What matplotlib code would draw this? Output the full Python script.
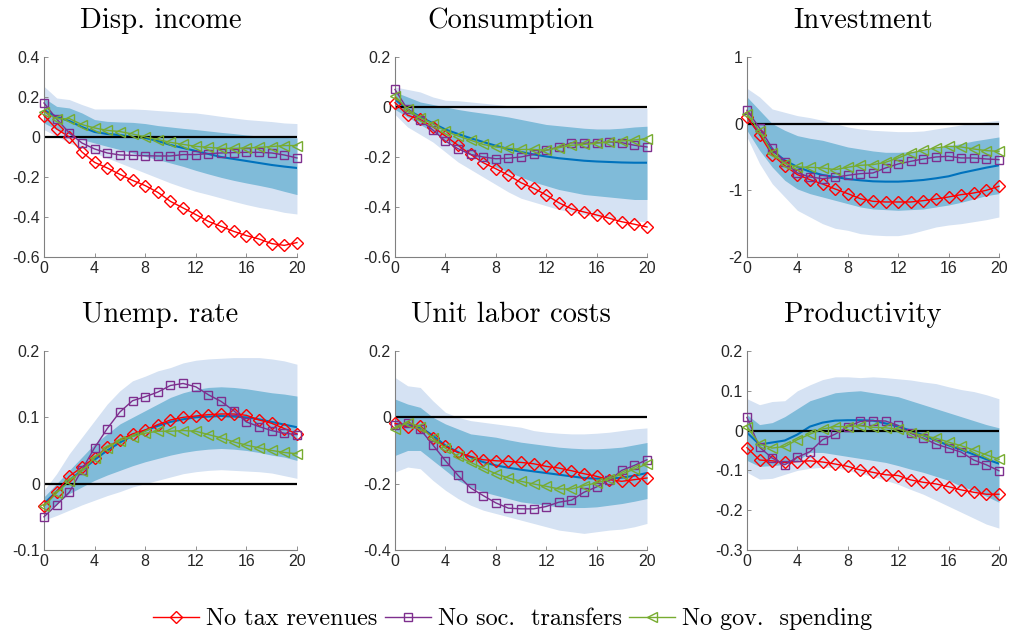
import numpy as np
import matplotlib
matplotlib.use("Agg")
import matplotlib.pyplot as plt

plt.rcParams["font.family"] = ["Liberation Sans", "DejaVu Sans"]
plt.rcParams["axes.unicode_minus"] = False

horizon = np.arange(21)

titles = ["Disp. income", "Consumption", "Investment",
          "Unemp. rate", "Unit labor costs", "Productivity"]
series_names = ["No tax revenues", "No soc.  transfers", "No gov.  spending"]

# --- Disp. income
disp_tax = [0.107, 0.04, 0.0, -0.075, -0.127, -0.155, -0.187, -0.217, -0.243, -0.277, -0.322,
            -0.355, -0.388, -0.422, -0.447, -0.472, -0.493, -0.51, -0.533, -0.542, -0.528]
disp_transf = [0.17, 0.09, 0.02, -0.03, -0.06, -0.08, -0.09, -0.092, -0.094, -0.095, -0.095,
               -0.088, -0.088, -0.083, -0.08, -0.078, -0.077, -0.077, -0.08, -0.09, -0.105]
disp_spend = [0.127, 0.09, 0.092, 0.062, 0.045, 0.033, 0.027, 0.015, 0.0, -0.013, -0.027,
              -0.037, -0.047, -0.052, -0.057, -0.057, -0.055, -0.052, -0.048, -0.043, -0.043]
disp_med = [0.135, 0.1, 0.08, 0.05, 0.025, 0.015, 0.01, 0.0, -0.005, -0.02, -0.04,
            -0.055, -0.07, -0.085, -0.1, -0.11, -0.12, -0.13, -0.14, -0.148, -0.155]
disp_in_hi = [0.195, 0.153, 0.145, 0.12, 0.087, 0.078, 0.075, 0.073, 0.067, 0.057, 0.05,
              0.043, 0.037, 0.03, 0.023, 0.017, 0.01, 0.005, 0.002, -0.002, -0.005]
disp_in_lo = [0.07, 0.037, 0.012, -0.013, -0.03, -0.047, -0.063, -0.08, -0.097, -0.113, -0.13,
              -0.147, -0.167, -0.185, -0.202, -0.217, -0.23, -0.242, -0.255, -0.272, -0.288]
disp_out_hi = [0.253, 0.195, 0.187, 0.162, 0.14, 0.14, 0.14, 0.14, 0.137, 0.132, 0.128,
               0.123, 0.12, 0.112, 0.103, 0.095, 0.087, 0.082, 0.077, 0.07, 0.067]
disp_out_lo = [0.037, 0.003, -0.03, -0.055, -0.08, -0.105, -0.13, -0.155, -0.18, -0.205, -0.23,
               -0.252, -0.272, -0.288, -0.305, -0.322, -0.338, -0.352, -0.363, -0.377, -0.385]

# --- Consumption
cons_tax = [0.017, -0.033, -0.05, -0.079, -0.116, -0.153, -0.19, -0.223, -0.247, -0.273, -0.303,
            -0.325, -0.352, -0.383, -0.407, -0.42, -0.432, -0.445, -0.459, -0.469, -0.48]
cons_transf = [0.07, -0.01, -0.053, -0.092, -0.136, -0.167, -0.19, -0.2, -0.207, -0.205, -0.2,
               -0.19, -0.173, -0.16, -0.143, -0.145, -0.143, -0.14, -0.143, -0.153, -0.16]
cons_spend = [0.044, -0.01, -0.043, -0.067, -0.096, -0.116, -0.133, -0.15, -0.16, -0.165, -0.17,
              -0.17, -0.173, -0.163, -0.153, -0.15, -0.145, -0.14, -0.136, -0.132, -0.127]
cons_med = [0.03, -0.01, -0.04, -0.065, -0.09, -0.108, -0.125, -0.14, -0.155, -0.168, -0.18,
            -0.19, -0.198, -0.205, -0.21, -0.215, -0.218, -0.22, -0.222, -0.223, -0.223]
cons_in_hi = [0.06, 0.04, 0.02, 0.01, 0.0, -0.01, -0.018, -0.025, -0.032, -0.04, -0.05,
              -0.06, -0.07, -0.075, -0.08, -0.085, -0.088, -0.088, -0.085, -0.08, -0.077]
cons_in_lo = [-0.01, -0.04, -0.07, -0.1, -0.13, -0.16, -0.19, -0.215, -0.24, -0.26, -0.28,
              -0.3, -0.315, -0.33, -0.34, -0.35, -0.355, -0.36, -0.365, -0.37, -0.37]
cons_out_hi = [0.08, 0.07, 0.06, 0.04, 0.027, 0.025, 0.02, 0.015, 0.01, 0.005, 0.0,
               -0.003, -0.005, -0.005, -0.005, -0.005, -0.005, -0.005, -0.005, -0.005, -0.005]
cons_out_lo = [-0.03, -0.08, -0.11, -0.14, -0.18, -0.22, -0.25, -0.28, -0.31, -0.34, -0.365,
               -0.38, -0.395, -0.41, -0.42, -0.43, -0.44, -0.445, -0.45, -0.455, -0.46]

# --- Investment
inv_tax = [0.1, -0.165, -0.465, -0.63, -0.765, -0.84, -0.905, -0.98, -1.05, -1.125, -1.165,
           -1.175, -1.175, -1.175, -1.155, -1.13, -1.1, -1.065, -1.04, -1.0, -0.94]
inv_transf = [0.2, -0.065, -0.365, -0.58, -0.74, -0.8, -0.825, -0.805, -0.775, -0.75, -0.74,
              -0.665, -0.605, -0.565, -0.53, -0.5, -0.49, -0.515, -0.515, -0.53, -0.54]
inv_spend = [0.15, -0.115, -0.44, -0.6, -0.65, -0.655, -0.665, -0.69, -0.655, -0.625, -0.615,
             -0.58, -0.515, -0.44, -0.4, -0.365, -0.34, -0.35, -0.38, -0.405, -0.415]
inv_med = [0.1, -0.15, -0.4, -0.55, -0.65, -0.72, -0.77, -0.8, -0.83, -0.85, -0.865,
           -0.87, -0.87, -0.86, -0.845, -0.82, -0.79, -0.74, -0.7, -0.66, -0.625]
inv_in_hi = [0.4, 0.2, 0.0, -0.1, -0.18, -0.22, -0.25, -0.3, -0.35, -0.38, -0.41,
             -0.43, -0.43, -0.42, -0.4, -0.37, -0.33, -0.3, -0.26, -0.23, -0.2]
inv_in_lo = [-0.1, -0.4, -0.65, -0.85, -0.98, -1.05, -1.1, -1.15, -1.2, -1.25, -1.28,
             -1.29, -1.3, -1.29, -1.28, -1.25, -1.22, -1.18, -1.13, -1.08, -1.05]
inv_out_hi = [0.53, 0.4, 0.22, 0.17, 0.12, 0.09, 0.05, 0.0, -0.05, -0.08, -0.1,
              -0.11, -0.12, -0.12, -0.11, -0.08, -0.05, -0.02, 0.01, 0.03, 0.05]
inv_out_lo = [-0.2, -0.6, -0.9, -1.1, -1.3, -1.4, -1.5, -1.57, -1.6, -1.65, -1.67,
              -1.68, -1.68, -1.65, -1.6, -1.55, -1.52, -1.5, -1.47, -1.44, -1.4]

# --- Unemp. rate
unemp_tax = [-0.033, -0.012, 0.011, 0.025, 0.039, 0.055, 0.066, 0.075, 0.081, 0.089, 0.096,
             0.1, 0.102, 0.104, 0.105, 0.105, 0.103, 0.096, 0.091, 0.083, 0.075]
unemp_transf = [-0.05, -0.032, -0.013, 0.021, 0.054, 0.083, 0.108, 0.125, 0.131, 0.138, 0.148,
                0.151, 0.146, 0.134, 0.124, 0.11, 0.093, 0.086, 0.08, 0.076, 0.074]
unemp_spend = [-0.034, -0.014, 0.004, 0.019, 0.039, 0.054, 0.065, 0.071, 0.076, 0.079, 0.079,
               0.08, 0.079, 0.074, 0.069, 0.063, 0.058, 0.054, 0.05, 0.047, 0.045]
unemp_med = [-0.03, -0.012, 0.005, 0.02, 0.036, 0.05, 0.062, 0.072, 0.08, 0.087, 0.093,
             0.097, 0.1, 0.101, 0.102, 0.101, 0.1, 0.097, 0.093, 0.089, 0.085]
unemp_in_hi = [-0.02, 0.0, 0.02, 0.04, 0.06, 0.075, 0.09, 0.1, 0.11, 0.12, 0.13,
               0.137, 0.142, 0.145, 0.146, 0.145, 0.143, 0.14, 0.137, 0.135, 0.132]
unemp_in_lo = [-0.045, -0.03, -0.015, -0.005, 0.005, 0.013, 0.02, 0.027, 0.033, 0.038, 0.043,
               0.047, 0.05, 0.052, 0.053, 0.052, 0.05, 0.047, 0.043, 0.04, 0.035]
unemp_out_hi = [-0.01, 0.015, 0.045, 0.07, 0.095, 0.12, 0.14, 0.155, 0.162, 0.17, 0.175,
                0.182, 0.186, 0.188, 0.189, 0.19, 0.19, 0.19, 0.188, 0.185, 0.18]
unemp_out_lo = [-0.055, -0.048, -0.04, -0.032, -0.025, -0.018, -0.012, -0.005, 0.0, 0.005, 0.01,
                0.015, 0.018, 0.02, 0.021, 0.02, 0.019, 0.018, 0.016, 0.012, 0.008]

# --- Unit labor costs
ulc_tax = [-0.018, -0.03, -0.025, -0.063, -0.088, -0.106, -0.118, -0.128, -0.131, -0.133, -0.136,
           -0.14, -0.148, -0.153, -0.161, -0.17, -0.178, -0.188, -0.193, -0.188, -0.183]
ulc_transf = [-0.023, -0.018, -0.036, -0.083, -0.131, -0.175, -0.213, -0.236, -0.258, -0.274, -0.276,
              -0.276, -0.269, -0.256, -0.25, -0.226, -0.21, -0.19, -0.16, -0.145, -0.128]
ulc_spend = [-0.035, -0.016, -0.028, -0.063, -0.093, -0.118, -0.136, -0.153, -0.17, -0.183, -0.193,
             -0.201, -0.208, -0.216, -0.216, -0.206, -0.198, -0.186, -0.171, -0.156, -0.141]
ulc_med = [-0.02, -0.025, -0.03, -0.055, -0.085, -0.105, -0.12, -0.135, -0.145, -0.152, -0.158,
           -0.163, -0.168, -0.173, -0.178, -0.183, -0.185, -0.185, -0.182, -0.176, -0.168]
ulc_in_hi = [0.055, 0.04, 0.03, 0.0, -0.02, -0.035, -0.05, -0.055, -0.06, -0.068, -0.075,
             -0.08, -0.085, -0.09, -0.093, -0.095, -0.095, -0.093, -0.09, -0.083, -0.076]
ulc_in_lo = [-0.115, -0.1, -0.1, -0.13, -0.16, -0.19, -0.21, -0.225, -0.235, -0.245, -0.255,
             -0.26, -0.265, -0.27, -0.272, -0.272, -0.27, -0.265, -0.26, -0.253, -0.245]
ulc_out_hi = [0.12, 0.095, 0.09, 0.05, 0.015, 0.0, -0.01, -0.015, -0.02, -0.025, -0.03,
              -0.04, -0.045, -0.048, -0.05, -0.05, -0.048, -0.045, -0.04, -0.035, -0.032]
ulc_out_lo = [-0.165, -0.15, -0.155, -0.19, -0.22, -0.245, -0.265, -0.28, -0.29, -0.3, -0.31,
              -0.32, -0.33, -0.34, -0.345, -0.35, -0.345, -0.34, -0.337, -0.33, -0.32]

# --- Productivity
prod_tax = [-0.043, -0.074, -0.076, -0.08, -0.078, -0.076, -0.079, -0.084, -0.09, -0.099, -0.105,
            -0.111, -0.113, -0.124, -0.13, -0.134, -0.141, -0.149, -0.155, -0.16, -0.16]
prod_transf = [0.033, -0.042, -0.069, -0.086, -0.067, -0.053, -0.023, -0.009, 0.01, 0.023, 0.025,
               0.024, 0.013, -0.007, -0.019, -0.034, -0.044, -0.054, -0.074, -0.086, -0.101]
prod_spend = [0.01, -0.034, -0.044, -0.04, -0.023, -0.009, 0.004, 0.01, 0.01, 0.012, 0.008,
              0.007, 0.004, -0.005, -0.013, -0.019, -0.029, -0.038, -0.049, -0.061, -0.072]
prod_med = [-0.005, -0.035, -0.03, -0.025, -0.01, 0.01, 0.02, 0.025, 0.026, 0.026, 0.025,
            0.018, 0.01, 0.0, -0.012, -0.025, -0.037, -0.048, -0.06, -0.072, -0.083]
prod_in_hi = [0.04, 0.015, 0.02, 0.035, 0.055, 0.075, 0.085, 0.095, 0.098, 0.1, 0.095,
              0.09, 0.085, 0.075, 0.065, 0.055, 0.045, 0.035, 0.025, 0.015, 0.007]
prod_in_lo = [-0.075, -0.09, -0.088, -0.085, -0.075, -0.055, -0.055, -0.06, -0.065, -0.07, -0.075,
              -0.08, -0.088, -0.097, -0.105, -0.115, -0.125, -0.14, -0.15, -0.165, -0.18]
prod_out_hi = [0.08, 0.065, 0.073, 0.075, 0.1, 0.115, 0.128, 0.135, 0.135, 0.133, 0.135,
               0.133, 0.13, 0.127, 0.122, 0.118, 0.11, 0.103, 0.098, 0.09, 0.08]
prod_out_lo = [-0.105, -0.122, -0.12, -0.11, -0.1, -0.095, -0.092, -0.093, -0.1, -0.108, -0.115,
               -0.125, -0.135, -0.148, -0.16, -0.175, -0.19, -0.205, -0.22, -0.235, -0.245]

panels = [
    (disp_tax, disp_transf, disp_spend, disp_med, disp_in_hi, disp_in_lo, disp_out_hi, disp_out_lo),
    (cons_tax, cons_transf, cons_spend, cons_med, cons_in_hi, cons_in_lo, cons_out_hi, cons_out_lo),
    (inv_tax, inv_transf, inv_spend, inv_med, inv_in_hi, inv_in_lo, inv_out_hi, inv_out_lo),
    (unemp_tax, unemp_transf, unemp_spend, unemp_med, unemp_in_hi, unemp_in_lo, unemp_out_hi, unemp_out_lo),
    (ulc_tax, ulc_transf, ulc_spend, ulc_med, ulc_in_hi, ulc_in_lo, ulc_out_hi, ulc_out_lo),
    (prod_tax, prod_transf, prod_spend, prod_med, prod_in_hi, prod_in_lo, prod_out_hi, prod_out_lo),
]

y_limits = [(-0.6, 0.4), (-0.6, 0.2), (-2, 1), (-0.1, 0.2), (-0.4, 0.2), (-0.3, 0.2)]
y_ticks = [[-0.6, -0.4, -0.2, 0, 0.2, 0.4], [-0.6, -0.4, -0.2, 0, 0.2], [-2, -1, 0, 1],
           [-0.1, 0, 0.1, 0.2], [-0.4, -0.2, 0, 0.2], [-0.3, -0.2, -0.1, 0, 0.1, 0.2]]

# axes boxes [left, bottom, width, height]
lefts = [0.0436, 0.3915, 0.7403]
boxes = [[lefts[0], 0.5953, 0.2507, 0.3150], [lefts[1], 0.5953, 0.2497, 0.3150],
         [lefts[2], 0.5953, 0.2497, 0.3150], [lefts[0], 0.1339, 0.2507, 0.3134],
         [lefts[1], 0.1339, 0.2497, 0.3134], [lefts[2], 0.1339, 0.2497, 0.3134]]

light_band = "#d5e2f3"
dark_band = "#80bbd9"
median_col = "#0072bd"
line_styles = [dict(color="#ff0000", marker="D", ms=6.2),
               dict(color="#7e2f8e", marker="s", ms=5.2),
               dict(color="#77ac30", marker="<", ms=7.0)]
serif = "cmr10"

fig = plt.figure(figsize=(10.09, 6.35), dpi=100)
handles = []
for k, (box, data) in enumerate(zip(boxes, panels)):
    tax, transf, spend, med, in_hi, in_lo, out_hi, out_lo = data
    ax = fig.add_axes(box)
    ax.fill_between(horizon, out_lo, out_hi, color=light_band, lw=0)
    ax.fill_between(horizon, in_lo, in_hi, color=dark_band, lw=0)
    ax.plot(horizon, med, color=median_col, lw=1.5)
    ax.axhline(0, color="black", lw=1.6, xmin=0, xmax=1)
    handles = []
    for vals, st in zip([tax, transf, spend], line_styles):
        h, = ax.plot(horizon, vals, color=st["color"], lw=1.0, marker=st["marker"],
                     ms=st["ms"], mfc="none", mec=st["color"], mew=1.0, clip_on=False,
                     zorder=4)
        handles.append(h)
    ax.set_xlim(0, 20)
    ax.set_ylim(*y_limits[k])
    ax.set_xticks(range(0, 21, 4))
    ax.set_yticks(y_ticks[k])
    ax.set_yticklabels([f"{t:g}" for t in y_ticks[k]])
    for side in ("top", "right"):
        ax.spines[side].set_visible(False)
    for side in ("left", "bottom"):
        ax.spines[side].set_color("#808080")
        ax.spines[side].set_linewidth(0.8)
    ax.tick_params(direction="in", length=3, width=0.6, color="#808080",
                   labelsize=11.5, labelcolor="#262626", pad=3)
    ax.set_title(titles[k], fontfamily=serif, fontsize=20.6, pad=21, x=0.46)

fig.legend(handles, series_names, loc="center", bbox_to_anchor=(0.508, 0.025),
           ncol=3, frameon=False, handlelength=1.9, handletextpad=0.3,
           columnspacing=0.3, prop={"family": serif, "size": 17.4})

fig.savefig("out.png", dpi=100)
